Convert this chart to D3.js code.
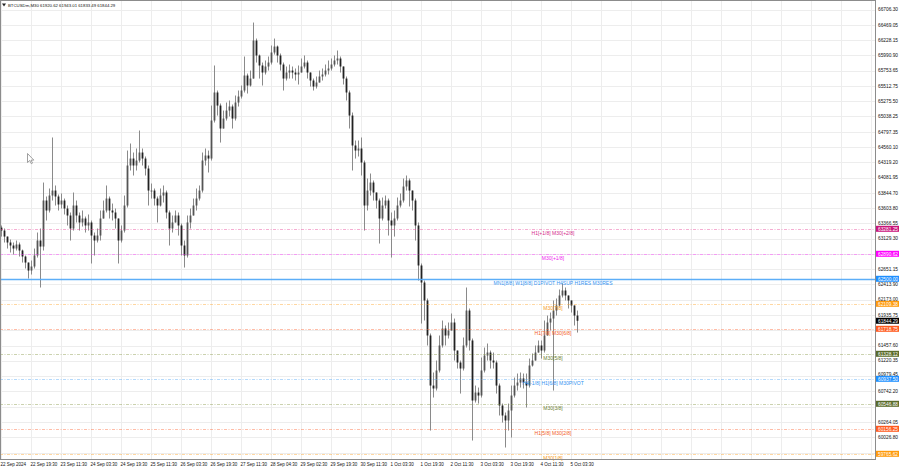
<!DOCTYPE html>
<html><head><meta charset="utf-8">
<script src="https://cdn.jsdelivr.net/npm/d3@7"></script>
<style>body{margin:0;background:#fff}svg{display:block}text{font-family:"Liberation Sans",Arial,sans-serif}</style>
</head><body><svg id="c" width="900" height="468"></svg>
<script>
const symbolTitle = "BTCUSDm,M30 61920.62 61943.01 61833.49 61844.29";
const firstOpen = 63300;
const closes = [
63254,63160,63067,63020,62973,63036,62942,62848,62754,62629,
62692,62864,63098,63004,63723,63567,63801,63879,63786,63661,
63723,63598,63489,63286,63645,63489,63380,63442,63333,63380,
63176,63098,63176,63442,63567,63754,63567,63536,63442,63098,
63254,63645,64270,64379,64270,64348,64473,64379,64223,63879,
63879,63754,63645,63801,63848,63536,63286,63380,63489,63333,
63020,62864,63380,63489,63645,63754,63879,64348,64426,64379,
64973,65411,65207,64848,65004,65129,65192,65004,65254,65348,
65442,65676,65520,65629,66223,65989,65833,65723,65817,65879,
66036,66129,65989,65848,65629,65723,65754,65723,65692,65723,
65817,65879,65723,65598,65504,65567,65661,65692,65754,65786,
65848,65911,65942,65817,65629,65411,65051,64583,64504,64536,
64317,63645,63879,64004,63848,63723,63442,63645,63723,63411,
63333,63442,63645,63723,63942,64036,63879,63723,63333,62708,
62442,62161,61614,60832,60786,61067,61458,61723,61614,61692,
61817,61379,61192,61098,61458,62004,61536,60598,60723,60676,
61067,61301,61348,61223,61192,60832,60520,60364,60286,60442,
60676,60832,60879,60942,60879,60832,61145,61223,61348,61458,
61379,61614,61817,61879,62004,62083,62239,62317,62239,62161,
62083,61926,61844.29];
const highs = [
63332,63286,63160,63114,63067,63098,63067,62957,62864,62754,
62786,62973,63223,63286,64004,63786,63911,64708,63958,63817,
63833,63754,63645,63536,63848,63723,63536,63567,63473,63505,
63411,63223,63286,63567,63723,63958,63786,63676,63598,63442,
63333,63801,64504,64614,64473,64536,64817,64536,64411,64270,
63989,63911,63786,63911,63958,63879,63567,63489,63567,63536,
63364,63098,63489,63598,63754,63911,63958,64473,64536,64504,
65207,65833,65442,65239,65129,65254,65286,65223,65364,65442,
65520,65973,65707,65754,66504,66254,66004,65879,65911,65973,
66145,66254,66145,66020,65879,65817,65848,65817,65786,65833,
65942,65989,65911,65723,65629,65661,65754,65786,65848,65911,
65942,65989,66067,65973,65817,65661,65442,65098,64661,64661,
64708,64348,64067,64145,64036,63848,63754,63770,63801,63754,
63536,63567,63770,63833,64067,64114,64067,63879,63754,63380,
62739,62473,62192,61645,61036,61223,61614,61848,61770,61817,
61958,61879,61379,61223,61583,62364,62036,61567,60832,60801,
61270,61426,61489,61379,61348,61223,60864,60551,60411,60551,
60832,60957,61020,61036,61020,61020,61254,61333,61458,61536,
61536,61848,61926,61973,62161,62192,62333,62426,62364,62239,
62161,62083,62004];
const lows = [
63160,63067,62973,62911,62879,62942,62848,62754,62661,62504,
62567,62661,62832,62364,62942,63411,63536,63723,63645,63567,
63598,63505,63333,63098,63254,63380,63254,63317,63223,63254,
62739,62864,63067,63098,63442,63536,63442,63411,63286,62739,
63067,63223,63614,64192,64114,64192,64317,64270,64114,63645,
63754,63645,63380,63630,63692,63442,63020,63223,63380,63176,
62864,62676,62832,63286,63489,63567,63723,63848,64270,64161,
64348,64942,65051,64629,64848,64973,65036,64848,64973,65192,
65317,65411,65395,65504,65629,65879,65629,65520,65692,65754,
65848,66004,65879,65754,65442,65598,65629,65629,65598,65536,
65723,65786,65629,65504,65442,65473,65567,65598,65661,65692,
65754,65817,65848,65723,65536,65286,64848,64192,64379,64411,
64114,63254,63567,63801,63723,63598,63051,63411,63598,63176,
62832,63160,63411,63614,63692,63879,63630,63567,63098,62473,
61801,61848,61458,60129,60645,60754,61036,61426,61458,61567,
61692,61223,61098,60707,61067,61426,61379,59973,60567,60551,
60645,61036,61223,61098,61098,60707,60364,60254,59864,60129,
60020,60645,60754,60801,60786,60489,60801,61129,61223,61348,
61254,61348,61614,61692,60754,61926,62067,62208,62161,62036,
61973,61770,61660];
const timeLabels = ["22 Sep 2024","22 Sep 19:30","23 Sep 11:30","24 Sep 03:30","24 Sep 19:30","25 Sep 11:30","26 Sep 03:30","26 Sep 19:30","27 Sep 11:30","28 Sep 04:30","29 Sep 02:30","29 Sep 19:30","30 Sep 11:30","1 Oct 03:30","1 Oct 19:30","2 Oct 11:30","3 Oct 03:30","3 Oct 19:30","4 Oct 11:30","5 Oct 03:30"];
const barsPerTimeLabel = 10;
const priceTicks = [66706.30,66469.05,66228.15,65990.90,65753.65,65512.75,65275.50,65038.25,64797.35,64560.10,64319.20,64081.95,63844.70,63603.80,63366.55,63129.30,62888.40,62651.15,62413.90,62173.00,61935.75,61698.50,61457.60,61220.35,60979.45,60742.20,60501.30,60264.05,60026.80,59785.90];
const hiddenPriceTicks = [62888.40,61698.50,60501.30,59785.90];
const levelPrices = [63281.25,62890.62,62500.00,62109.38,61718.75,61328.12,60937.50,60546.88,60156.25,59765.62];
const levelNames = ["H1[+1/8] M30[+2/8]","M30[+1/8]","MN1[8/8] W1[8/8] D1PIVOT H4SUP H1RES M30RES","M30[7/8]","H1[7/8] M30[6/8]","M30[5/8]","H4[-1/8] H1[6/8] M30PIVOT","M30[3/8]","H1[5/8] M30[2/8]","M30[1/8]"];
const levelKinds = ["pink","magenta","main","orange","orangered","olive","blue","olive","orangered","orange"];
const lastPrice = 61844.29;

const kindStyle = {
  pink:{line:"#e8489b",text:"#d42a8a",tag:"#c8167a",dash:"3,1.5,1,1.5"},
  magenta:{line:"#ff33ff",text:"#ee22ee",tag:"#ff00ff",dash:"3,1.5,1,1.5"},
  main:{line:"#55aaf8",text:"#3394f2",tag:"#1e8fff",dash:null},
  orange:{line:"#ffa52a",text:"#f59a1a",tag:"#ff9a0a",dash:"3,1.5,1,1.5"},
  orangered:{line:"#ff6a3a",text:"#f25c26",tag:"#ff5a1e",dash:"3,1.5,1,1.5"},
  olive:{line:"#8a9a4a",text:"#6b7d2e",tag:"#5a6b2a",dash:"3,1.5,1,1.5"},
  blue:{line:"#55aaf8",text:"#3394f2",tag:"#1e8fff",dash:"3,1.5,1,1.5"}
};

const svg = d3.select("#c");
const W=900,H=468,plotR=875,plotB=459;
const nSlots = 292;
const x = d3.scaleBand().domain(d3.range(nSlots)).range([0,nSlots*3]);
const y = d3.scaleLinear().domain([59684.4,66856.25]).range([plotB,0]);

svg.append("rect").attr("width",W).attr("height",H).attr("fill","#fff");

// grid
const grid = svg.append("g").attr("shape-rendering","crispEdges");
priceTicks.forEach(t=>{
  const yy=Math.round(y(t))+0.5;
  grid.append("line").attr("x1",0).attr("x2",plotR).attr("y1",yy).attr("y2",yy).attr("stroke","#ededed");
});
for(let k=0; x(k*barsPerTimeLabel)!==undefined && x(k*barsPerTimeLabel)<plotR; k++){
  const xx=x(k*barsPerTimeLabel)+1.5;
  grid.append("line").attr("x1",xx).attr("x2",xx).attr("y1",0).attr("y2",plotB).attr("stroke","#ededed");
}

// candles
const gC = svg.append("g");
closes.forEach((c,i)=>{
  const o = i? closes[i-1] : firstOpen;
  const hi = Math.max(highs[i],o,c), lo = Math.min(lows[i],o,c);
  gC.append("rect").attr("x",x(i)+1).attr("width",1).attr("y",y(hi)).attr("height",Math.max(1,y(lo)-y(hi))).attr("fill","#8a8a8a");
  const top=y(Math.max(o,c)), bot=y(Math.min(o,c));
  gC.append("rect").attr("x",x(i)+0.6).attr("width",1.8).attr("y",top).attr("height",Math.max(1,bot-top)).attr("fill", c<o?"#222":"#555");
});

// levels
const gL = svg.append("g");
levelPrices.forEach((p,i)=>{
  const st=kindStyle[levelKinds[i]];
  const yy=Math.round(y(p))+0.5;
  const ln=gL.append("line").attr("x1",0).attr("x2",plotR).attr("y1",yy).attr("y2",yy)
    .attr("stroke",st.line).attr("stroke-width",st.dash?0.8:1.3).attr("opacity",st.dash?0.55:0.95);
  if(st.dash) ln.attr("stroke-dasharray",st.dash);
  gL.append("text").attr("x",553).attr("y",yy+5).attr("text-anchor","middle").attr("font-size",5)
    .attr("fill",st.text).text(levelNames[i]);
});

// border
svg.append("rect").attr("x",0.5).attr("y",0.5).attr("width",plotR).attr("height",plotB-0.5)
  .attr("fill","none").attr("stroke","#8c8c8c").attr("shape-rendering","crispEdges");

// tags positions
const tags = levelPrices.map((p,i)=>({p,col:kindStyle[levelKinds[i]].tag}));
tags.push({p:lastPrice,col:"#000"});
const tagH = 6;

// price axis labels (nudged clear of tags)
const gA = svg.append("g");
priceTicks.filter(t=>!hiddenPriceTicks.includes(t)).forEach(t=>{
  let base = y(t)+1.8;
  tags.forEach(tg=>{
    const ty=y(tg.p), top=ty-tagH/2, bot=ty+tagH/2;
    if(base>top-0.2 && base-3.8<bot){
      if(y(t)<ty) base=top-0.3; else base=bot+3.9;
    }
  });
  gA.append("text").attr("x",878).attr("y",base).attr("font-size",4.8).attr("fill","#111").text(t.toFixed(2));
});
tags.forEach(t=>{
  const yy=y(t.p);
  gA.append("rect").attr("x",876).attr("y",yy-tagH/2).attr("width",23).attr("height",tagH).attr("fill",t.col);
  gA.append("text").attr("x",878).attr("y",yy+1.8).attr("font-size",4.8).attr("fill","#fff").text(t.p.toFixed(2));
});

// time labels
timeLabels.forEach((s,k)=>{
  svg.append("text").attr("x",x(k*barsPerTimeLabel)+0.5).attr("y",465.5).attr("font-size",4.5).attr("fill","#111").text(s);
});

// title
svg.append("path").attr("d","M2,3.5 L6,3.5 L4,6.5 Z").attr("fill","#222");
svg.append("text").attr("x",8).attr("y",6.5).attr("font-size",4.3).attr("fill","#111").text(symbolTitle);

// mouse cursor
svg.append("path").attr("d","M0,0 L0,9 L2.2,7 L3.8,10.2 L5,9.6 L3.5,6.6 L6.3,6.6 Z")
  .attr("transform","translate(27.5,153.5)").attr("fill","#fff").attr("stroke","#888").attr("stroke-width",0.8);
</script></body></html>
